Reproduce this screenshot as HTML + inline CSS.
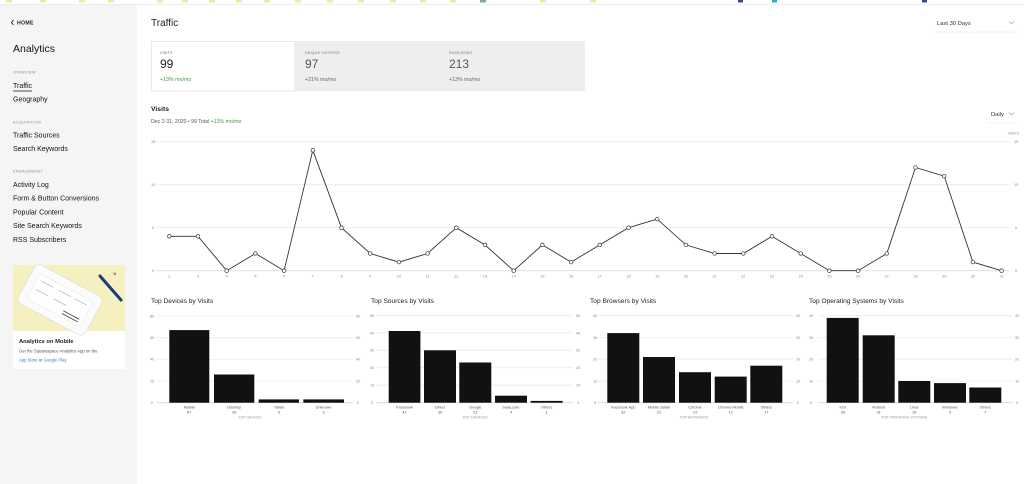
<!DOCTYPE html>
<html><head><meta charset="utf-8"><style>
html,body{margin:0;padding:0;background:#fff;width:1024px;height:484px;overflow:hidden}
svg{display:block;font-family:"Liberation Sans",sans-serif}
</style></head><body>
<svg width="1024" height="484" viewBox="0 0 1024 484" xmlns="http://www.w3.org/2000/svg">
<!-- top bookmark strip -->
<rect x="0" y="0" width="1024" height="4" fill="#fff"/>
<line x1="0" y1="4.5" x2="1024" y2="4.5" stroke="#ececec" stroke-width="1"/>
<g fill="#f3e7a6">
<rect x="6" y="0" width="6" height="2.5"/><rect x="40" y="0" width="6" height="2.5"/><rect x="79" y="0" width="6" height="2.5"/><rect x="108" y="0" width="6" height="2.5"/><rect x="157" y="0" width="6" height="2.5"/><rect x="182" y="0" width="6" height="2.5"/><rect x="209" y="0" width="6" height="2.5"/><rect x="236" y="0" width="6" height="2.5"/><rect x="264" y="0" width="6" height="2.5"/><rect x="295" y="0" width="6" height="2.5"/><rect x="327" y="0" width="6" height="2.5"/><rect x="358" y="0" width="6" height="2.5"/><rect x="390" y="0" width="6" height="2.5"/><rect x="420" y="0" width="6" height="2.5"/><rect x="450" y="0" width="6" height="2.5"/><rect x="540" y="0" width="6" height="2.5"/><rect x="590" y="0" width="6" height="2.5"/>
</g>
<rect x="480" y="0" width="6" height="2.5" fill="#7fb08a"/>
<rect x="738" y="0" width="5" height="2.5" fill="#33518f"/><rect x="772" y="0" width="5" height="2.5" fill="#2bb3c7"/><rect x="922" y="0" width="5" height="2.5" fill="#33518f"/>

<!-- sidebar -->
<rect x="0" y="5" width="137" height="479" fill="#f5f5f5"/>
<path d="M13.5 20 L11.5 22.5 L13.5 25" fill="none" stroke="#222" stroke-width="0.9"/>
<text x="17" y="24.5" font-size="5.2" font-weight="bold" fill="#222" letter-spacing="0.3">HOME</text>
<text x="13" y="52" font-size="10.5" fill="#111">Analytics</text>
<text x="13" y="73.5" font-size="3.8" fill="#888" letter-spacing="0.3">OVERVIEW</text>
<text x="13" y="88" font-size="7" fill="#111">Traffic</text>
<line x1="13" y1="91" x2="32" y2="91" stroke="#111" stroke-width="0.8"/>
<text x="13" y="101.5" font-size="7" fill="#111">Geography</text>
<text x="13" y="123.5" font-size="3.8" fill="#888" letter-spacing="0.3">ACQUISITION</text>
<text x="13" y="137.5" font-size="7" fill="#111">Traffic Sources</text>
<text x="13" y="151" font-size="7" fill="#111">Search Keywords</text>
<text x="13" y="172.5" font-size="3.8" fill="#888" letter-spacing="0.3">ENGAGEMENT</text>
<text x="13" y="187" font-size="7" fill="#111">Activity Log</text>
<text x="13" y="200.5" font-size="7" fill="#111">Form &amp; Button Conversions</text>
<text x="13" y="214.5" font-size="7" fill="#111">Popular Content</text>
<text x="13" y="228" font-size="7" fill="#111">Site Search Keywords</text>
<text x="13" y="242" font-size="7" fill="#111">RSS Subscribers</text>

<!-- promo card -->
<rect x="13" y="265" width="112" height="104" fill="#fff"/>
<rect x="13" y="265" width="112" height="66" fill="#f6efc0"/>
<g transform="translate(60,300) rotate(28)">
<rect x="-38" y="-22" width="76" height="44" rx="6" fill="#fbfbfb" stroke="#ddd" stroke-width="0.6"/>
<rect x="-30" y="-14" width="60" height="28" fill="#fff" stroke="#e2e2e2" stroke-width="0.4"/>
<g stroke="#aaa" stroke-width="0.6"><line x1="-26" y1="-8" x2="-12" y2="-8"/><line x1="-6" y1="-8" x2="8" y2="-8"/><line x1="12" y1="-8" x2="26" y2="-8"/><line x1="-26" y1="2" x2="-12" y2="2"/><line x1="-6" y1="2" x2="8" y2="2"/></g>
<g stroke="#333" stroke-width="0.8"><line x1="8" y1="8" x2="26" y2="8"/><line x1="8" y1="11" x2="26" y2="11"/></g>
</g>
<line x1="100" y1="276" x2="121" y2="300" stroke="#1c3a7a" stroke-width="3" stroke-linecap="round"/>
<text x="113" y="276" font-size="6" fill="#333">×</text>
<text x="19" y="343" font-size="5.8" font-weight="bold" fill="#222">Analytics on Mobile</text>
<text x="19" y="352.5" font-size="4.2" fill="#555">Get the Squarespace Analytics App on the</text>
<text x="19" y="361.5" font-size="4.2" fill="#3a7fc1">App Store <tspan fill="#555">or</tspan> Google Play</text>

<!-- header -->
<text x="151" y="26" font-size="10" fill="#222">Traffic</text>
<text x="937" y="25" font-size="5.8" fill="#333">Last 30 Days</text>
<path d="M1009 21.5 L1011.5 24 L1014 21.5" fill="none" stroke="#999" stroke-width="0.6"/>
<line x1="932" y1="32" x2="1017" y2="32" stroke="#eee" stroke-width="0.8"/>

<!-- tabs -->
<rect x="295" y="41" width="290" height="50" fill="#eeeeee"/>
<rect x="151.5" y="41.5" width="143.5" height="49.5" fill="#fff" stroke="#e4e4e4" stroke-width="0.8"/>
<text x="160" y="54" font-size="3.6" fill="#666" letter-spacing="0.2">VISITS</text>
<text x="160" y="68" font-size="12" fill="#222">99</text>
<text x="160" y="81" font-size="5.3" fill="#3a9a4a">+13% mo/mo</text>
<text x="305" y="54" font-size="3.6" fill="#777" letter-spacing="0.2">UNIQUE VISITORS</text>
<text x="305" y="68" font-size="12" fill="#555">97</text>
<text x="305" y="81" font-size="5.3" fill="#666">+21% mo/mo</text>
<text x="449" y="54" font-size="3.6" fill="#777" letter-spacing="0.2">PAGEVIEWS</text>
<text x="449" y="68" font-size="12" fill="#555">213</text>
<text x="449" y="81" font-size="5.3" fill="#666">+13% mo/mo</text>

<!-- visits heading -->
<text x="151" y="111" font-size="6.8" font-weight="bold" fill="#222">Visits</text>
<text x="151" y="123" font-size="5.2" fill="#555">Dec 2-31, 2020 • 99 Total <tspan fill="#3a9a4a">+13% mo/mo</tspan></text>
<text x="991" y="116" font-size="5.8" fill="#333">Daily</text>
<path d="M1009 112.5 L1011.5 115 L1014 112.5" fill="none" stroke="#999" stroke-width="0.6"/>
<line x1="988" y1="123" x2="1017" y2="123" stroke="#eee" stroke-width="0.8"/>
<text x="1019" y="134.5" font-size="3.6" fill="#888" text-anchor="end">VISITS</text>

<!-- line chart grid -->
<g stroke="#ebebeb" stroke-width="0.8">
<line x1="156" y1="141.7" x2="1010" y2="141.7"/>
<line x1="156" y1="184.7" x2="1010" y2="184.7"/>
<line x1="156" y1="227.7" x2="1010" y2="227.7"/>
<line x1="156" y1="270.7" x2="1010" y2="270.7" stroke="#dcdcdc"/>
</g>
<g font-size="3.8" fill="#888">
<text x="151" y="143">15</text><text x="151" y="186">10</text><text x="152" y="229">5</text><text x="152" y="272">0</text>
<text x="1014" y="143">15</text><text x="1014" y="186">10</text><text x="1015" y="229">5</text><text x="1015" y="272">0</text>
</g>
<g font-size="3.8" fill="#888" text-anchor="middle">
<text x="169.3" y="277.5">2</text><text x="198" y="277.5">3</text><text x="226.7" y="277.5">4</text><text x="255.4" y="277.5">5</text><text x="284.1" y="277.5">6</text><text x="312.8" y="277.5">7</text><text x="341.5" y="277.5">8</text><text x="370.2" y="277.5">9</text><text x="398.9" y="277.5">10</text><text x="427.6" y="277.5">11</text><text x="456.3" y="277.5">12</text><text x="485" y="277.5">13</text><text x="513.7" y="277.5">14</text><text x="542.4" y="277.5">15</text><text x="571.1" y="277.5">16</text><text x="599.8" y="277.5">17</text><text x="628.5" y="277.5">18</text><text x="657.2" y="277.5">19</text><text x="685.9" y="277.5">20</text><text x="714.6" y="277.5">21</text><text x="743.3" y="277.5">22</text><text x="772" y="277.5">23</text><text x="800.7" y="277.5">24</text><text x="829.4" y="277.5">25</text><text x="858.1" y="277.5">26</text><text x="886.8" y="277.5">27</text><text x="915.5" y="277.5">28</text><text x="944.2" y="277.5">29</text><text x="972.9" y="277.5">30</text><text x="1001.6" y="277.5">31</text>
</g>
<polyline fill="none" stroke="#333" stroke-width="0.9" points="169.3,236.3 198,236.3 226.7,270.7 255.4,253.5 284.1,270.7 312.8,150.3 341.5,227.7 370.2,253.5 398.9,262.1 427.6,253.5 456.3,227.7 485,244.9 513.7,270.7 542.4,244.9 571.1,262.1 599.8,244.9 628.5,227.7 657.2,219.1 685.9,244.9 714.6,253.5 743.3,253.5 772,236.3 800.7,253.5 829.4,270.7 858.1,270.7 886.8,253.5 915.5,167.5 944.2,176.1 972.9,262.1 1001.6,270.7"/>
<g fill="#fff" stroke="#333" stroke-width="0.7">
<circle cx="169.3" cy="236.3" r="1.8"/><circle cx="198" cy="236.3" r="1.8"/><circle cx="226.7" cy="270.7" r="1.8"/><circle cx="255.4" cy="253.5" r="1.8"/><circle cx="284.1" cy="270.7" r="1.8"/><circle cx="312.8" cy="150.3" r="1.8"/><circle cx="341.5" cy="227.7" r="1.8"/><circle cx="370.2" cy="253.5" r="1.8"/><circle cx="398.9" cy="262.1" r="1.8"/><circle cx="427.6" cy="253.5" r="1.8"/><circle cx="456.3" cy="227.7" r="1.8"/><circle cx="485" cy="244.9" r="1.8"/><circle cx="513.7" cy="270.7" r="1.8"/><circle cx="542.4" cy="244.9" r="1.8"/><circle cx="571.1" cy="262.1" r="1.8"/><circle cx="599.8" cy="244.9" r="1.8"/><circle cx="628.5" cy="227.7" r="1.8"/><circle cx="657.2" cy="219.1" r="1.8"/><circle cx="685.9" cy="244.9" r="1.8"/><circle cx="714.6" cy="253.5" r="1.8"/><circle cx="743.3" cy="253.5" r="1.8"/><circle cx="772" cy="236.3" r="1.8"/><circle cx="800.7" cy="253.5" r="1.8"/><circle cx="829.4" cy="270.7" r="1.8"/><circle cx="858.1" cy="270.7" r="1.8"/><circle cx="886.8" cy="253.5" r="1.8"/><circle cx="915.5" cy="167.5" r="1.8"/><circle cx="944.2" cy="176.1" r="1.8"/><circle cx="972.9" cy="262.1" r="1.8"/><circle cx="1001.6" cy="270.7" r="1.8"/>
</g>

<!-- bar chart titles -->
<g font-size="6.6" fill="#222">
<text x="151" y="303">Top Devices by Visits</text>
<text x="371" y="303">Top Sources by Visits</text>
<text x="590" y="303">Top Browsers by Visits</text>
<text x="809" y="303">Top Operating Systems by Visits</text>
</g>

<!-- Devices -->
<g stroke="#ebebeb" stroke-width="0.8">
<line x1="157" y1="316" x2="353" y2="316"/><line x1="157" y1="337.7" x2="353" y2="337.7"/><line x1="157" y1="359.4" x2="353" y2="359.4"/><line x1="157" y1="381" x2="353" y2="381"/><line x1="157" y1="402.7" x2="353" y2="402.7" stroke="#d8d8d8"/>
</g>
<g font-size="3.8" fill="#888">
<text x="150" y="317.5">80</text><text x="150" y="339">60</text><text x="150" y="360.7">40</text><text x="150" y="382.3">20</text><text x="151" y="404">0</text>
<text x="356" y="317.5">80</text><text x="356" y="339">60</text><text x="356" y="360.7">40</text><text x="356" y="382.3">20</text><text x="357" y="404">0</text>
</g>
<g fill="#111">
<rect x="169.3" y="330.1" width="40" height="72.6"/><rect x="214" y="374.5" width="40.3" height="28.2"/><rect x="258.7" y="399.4" width="40.3" height="3.3"/><rect x="303.3" y="399.4" width="40.7" height="3.3"/>
</g>
<g font-size="3.8" fill="#555" text-anchor="middle">
<text x="189.3" y="408.5">Mobile</text><text x="189.3" y="413.5">67</text>
<text x="234.2" y="408.5">Desktop</text><text x="234.2" y="413.5">26</text>
<text x="278.9" y="408.5">Tablet</text><text x="278.9" y="413.5">3</text>
<text x="323.6" y="408.5">Unknown</text><text x="323.6" y="413.5">3</text>
<text x="250" y="418.5" fill="#999" font-size="3.5">TOP DEVICES</text>
</g>

<!-- Sources -->
<g stroke="#ebebeb" stroke-width="0.8">
<line x1="376" y1="315.3" x2="573" y2="315.3"/><line x1="376" y1="332.8" x2="573" y2="332.8"/><line x1="376" y1="350.2" x2="573" y2="350.2"/><line x1="376" y1="367.7" x2="573" y2="367.7"/><line x1="376" y1="385.2" x2="573" y2="385.2"/><line x1="376" y1="402.7" x2="573" y2="402.7" stroke="#d8d8d8"/>
</g>
<g font-size="3.8" fill="#888">
<text x="370" y="316.8">50</text><text x="370" y="334.3">40</text><text x="370" y="351.7">30</text><text x="370" y="369.2">20</text><text x="370" y="386.7">10</text><text x="371" y="404">0</text>
<text x="576" y="316.8">50</text><text x="576" y="334.3">40</text><text x="576" y="351.7">30</text><text x="576" y="369.2">20</text><text x="576" y="386.7">10</text><text x="577" y="404">0</text>
</g>
<g fill="#111">
<rect x="388.7" y="331" width="31.7" height="71.7"/><rect x="424" y="350.3" width="32" height="52.4"/><rect x="459.3" y="362.5" width="32" height="40.2"/><rect x="495" y="395.7" width="32" height="7"/><rect x="530.7" y="400.9" width="32" height="1.8"/>
</g>
<g font-size="3.8" fill="#555" text-anchor="middle">
<text x="404.5" y="408.5">Facebook</text><text x="404.5" y="413.5">41</text>
<text x="440" y="408.5">Direct</text><text x="440" y="413.5">30</text>
<text x="475.3" y="408.5">Google</text><text x="475.3" y="413.5">23</text>
<text x="511" y="408.5">bada.com</text><text x="511" y="413.5">4</text>
<text x="546.7" y="408.5">Others</text><text x="546.7" y="413.5">1</text>
<text x="475" y="418.5" fill="#999" font-size="3.5">TOP SOURCES</text>
</g>

<!-- Browsers -->
<g stroke="#ebebeb" stroke-width="0.8">
<line x1="598" y1="315.7" x2="793" y2="315.7"/><line x1="598" y1="337.5" x2="793" y2="337.5"/><line x1="598" y1="359.2" x2="793" y2="359.2"/><line x1="598" y1="381" x2="793" y2="381"/><line x1="598" y1="402.7" x2="793" y2="402.7" stroke="#d8d8d8"/>
</g>
<g font-size="3.8" fill="#888">
<text x="593" y="317.2">40</text><text x="593" y="339">30</text><text x="593" y="360.7">20</text><text x="593" y="382.5">10</text><text x="594" y="404">0</text>
<text x="796" y="317.2">40</text><text x="796" y="339">30</text><text x="796" y="360.7">20</text><text x="796" y="382.5">10</text><text x="797" y="404">0</text>
</g>
<g fill="#111">
<rect x="607.3" y="333.1" width="32" height="69.6"/><rect x="643" y="357" width="32" height="45.7"/><rect x="679" y="372.2" width="32" height="30.5"/><rect x="714.7" y="376.6" width="32" height="26.1"/><rect x="750.3" y="365.7" width="32" height="37"/>
</g>
<g font-size="3.8" fill="#555" text-anchor="middle">
<text x="623.3" y="408.5">Facebook App</text><text x="623.3" y="413.5">32</text>
<text x="659" y="408.5">Mobile Safari</text><text x="659" y="413.5">21</text>
<text x="695" y="408.5">Chrome</text><text x="695" y="413.5">14</text>
<text x="730.7" y="408.5">Chrome Mobile</text><text x="730.7" y="413.5">12</text>
<text x="766.3" y="408.5">Others</text><text x="766.3" y="413.5">17</text>
<text x="694" y="418.5" fill="#999" font-size="3.5">TOP BROWSERS</text>
</g>

<!-- OS -->
<g stroke="#ebebeb" stroke-width="0.8">
<line x1="818" y1="315.7" x2="1013" y2="315.7"/><line x1="818" y1="337.5" x2="1013" y2="337.5"/><line x1="818" y1="359.2" x2="1013" y2="359.2"/><line x1="818" y1="381" x2="1013" y2="381"/><line x1="818" y1="402.7" x2="1013" y2="402.7" stroke="#d8d8d8"/>
</g>
<g font-size="3.8" fill="#888">
<text x="809" y="317.2">40</text><text x="809" y="339">30</text><text x="809" y="360.7">20</text><text x="809" y="382.5">10</text><text x="810" y="404">0</text>
<text x="1015" y="317.2">40</text><text x="1015" y="339">30</text><text x="1015" y="360.7">20</text><text x="1015" y="382.5">10</text><text x="1016" y="404">0</text>
</g>
<g fill="#111">
<rect x="826.7" y="317.9" width="32" height="84.8"/><rect x="862.7" y="335.3" width="32" height="67.4"/><rect x="898.3" y="381" width="32" height="21.7"/><rect x="934" y="383.1" width="32" height="19.6"/><rect x="969.3" y="387.5" width="32" height="15.2"/>
</g>
<g font-size="3.8" fill="#555" text-anchor="middle">
<text x="842.7" y="408.5">iOS</text><text x="842.7" y="413.5">39</text>
<text x="878.7" y="408.5">Android</text><text x="878.7" y="413.5">31</text>
<text x="914.3" y="408.5">Linux</text><text x="914.3" y="413.5">10</text>
<text x="950" y="408.5">Windows</text><text x="950" y="413.5">9</text>
<text x="985.3" y="408.5">Others</text><text x="985.3" y="413.5">7</text>
<text x="904" y="418.5" fill="#999" font-size="3.5">TOP OPERATING SYSTEMS</text>
</g>
</svg>
</body></html>
